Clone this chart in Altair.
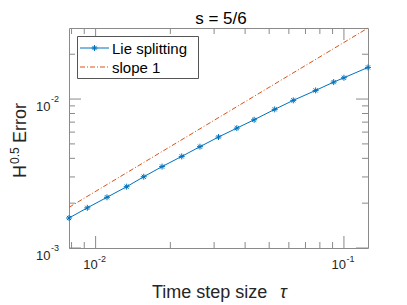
import altair as alt
import pandas as pd

# ---- data ----
tau = [0.0078125, 0.009259, 0.011111, 0.013333, 0.015625, 0.018519, 0.022222,
       0.026316, 0.03125, 0.037037, 0.043478, 0.052632, 0.0625, 0.076923,
       0.090909, 0.1, 0.125]
err = [0.00159, 0.00186, 0.00219, 0.00258, 0.00301, 0.00352, 0.00412,
       0.00479, 0.00556, 0.00638, 0.00726, 0.00853, 0.0098, 0.01143,
       0.0130, 0.0139, 0.01631]
slope_tau = [0.0078125, 0.125]
slope_err = [0.001875, 0.030]

x_major = [0.01, 0.1]
x_major_exp = ["-2", "-1"]
x_minor = [0.008, 0.009, 0.02, 0.03, 0.04, 0.05, 0.06, 0.07, 0.08, 0.09]
y_major = [0.001, 0.01]
y_major_exp = ["-3", "-2"]
y_minor = [0.002, 0.003, 0.004, 0.005, 0.006, 0.007, 0.008, 0.009, 0.02]
x_domain = [0.0078125, 0.125]
y_domain = [0.001, 0.03]

legend_labels = ["Lie splitting", "slope 1"]
title_text = "s = 5/6"
xlabel_text = "Time step size"
xlabel_sym = "τ"
ylabel_parts = ["H", "0.5", "Error"]

# ---- styling ----
W, H = 299, 220
FONT = "Liberation Sans"
TXT = "#262626"
AX = "#8a8a8a"
BLUE = "#0072BD"
ORANGE = "#D95319"
DASH = [5, 2, 1, 2]
ASTER = "M-1,0L1,0M0,-1L0,1M-0.7,-0.7L0.7,0.7M-0.7,0.7L0.7,-0.7"
MAJ, MIN = 12, 6

xs = alt.Scale(type="log", domain=x_domain, nice=False)
ys = alt.Scale(type="log", domain=y_domain, nice=False)


def X(f):
    return alt.X(f, type="quantitative", scale=xs, axis=None)


def Y(f):
    return alt.Y(f, type="quantitative", scale=ys, axis=None)


lie = pd.DataFrame({"tau": tau, "err": err})
slope = pd.DataFrame({"tau": slope_tau, "err": slope_err})
xmaj = pd.DataFrame({"v": x_major, "e": x_major_exp, "b": ["10"] * len(x_major)})
xmin = pd.DataFrame({"v": x_minor})
ymaj = pd.DataFrame({"v": y_major, "e": y_major_exp, "b": ["10"] * len(y_major)})
ymin = pd.DataFrame({"v": y_minor})

slope_line = alt.Chart(slope).mark_line(color=ORANGE, strokeWidth=1, strokeDash=DASH).encode(
    x=X("tau"), y=Y("err"))
lie_line = alt.Chart(lie).mark_line(color=BLUE, strokeWidth=1).encode(x=X("tau"), y=Y("err"))
lie_pts = alt.Chart(lie).mark_point(shape=ASTER, filled=False, color=BLUE, size=36,
                                    strokeWidth=1, opacity=1).encode(x=X("tau"), y=Y("err"))

# ticks (inward, on all four sides)
ticks = []
for df, ln in ((xmaj, MAJ), (xmin, MIN)):
    ticks.append(alt.Chart(df).mark_rule(color=AX, strokeWidth=1).encode(
        x=X("v"), y=alt.value(H), y2=alt.value(H - ln)))
    ticks.append(alt.Chart(df).mark_rule(color=AX, strokeWidth=1).encode(
        x=X("v"), y=alt.value(0), y2=alt.value(ln)))
for df, ln in ((ymaj, MAJ), (ymin, MIN)):
    ticks.append(alt.Chart(df).mark_rule(color=AX, strokeWidth=1).encode(
        y=Y("v"), x=alt.value(0), x2=alt.value(ln)))
    ticks.append(alt.Chart(df).mark_rule(color=AX, strokeWidth=1).encode(
        y=Y("v"), x=alt.value(W), x2=alt.value(W - ln)))

# tick labels with superscripts
xl_base = alt.Chart(xmaj).mark_text(align="right", baseline="alphabetic", font=FONT,
                                    fontSize=13, color=TXT, dx=2).encode(
    x=X("v"), y=alt.value(H + 21), text="b:N")
xl_exp = alt.Chart(xmaj).mark_text(align="left", baseline="alphabetic", font=FONT,
                                   fontSize=9, color=TXT, dx=2.5).encode(
    x=X("v"), y=alt.value(H + 14), text="e:N")
yl_base = alt.Chart(ymaj).mark_text(align="right", baseline="alphabetic", font=FONT,
                                    fontSize=13, color=TXT, dy=12).encode(
    x=alt.value(-18.5), y=Y("v"), text="b:N")
yl_exp = alt.Chart(ymaj).mark_text(align="left", baseline="alphabetic", font=FONT,
                                   fontSize=9, color=TXT, dy=3).encode(
    x=alt.value(-18), y=Y("v"), text="e:N")

# titles
title = alt.Chart(pd.DataFrame({"t": [title_text]})).mark_text(
    align="center", baseline="alphabetic", font=FONT, fontSize=17, color="#000").encode(
    x=alt.value(152), y=alt.value(-4.5), text="t:N")
xlab = alt.Chart(pd.DataFrame({"t": [xlabel_text]})).mark_text(
    align="left", baseline="alphabetic", font=FONT, fontSize=18, color=TXT).encode(
    x=alt.value(83), y=alt.value(270), text="t:N")
xsym = alt.Chart(pd.DataFrame({"t": [xlabel_sym]})).mark_text(
    align="left", baseline="alphabetic", font=FONT, fontSize=18, fontStyle="italic",
    color=TXT).encode(x=alt.value(211), y=alt.value(270), text="t:N")
yl_h = alt.Chart(pd.DataFrame({"t": [ylabel_parts[0]]})).mark_text(
    align="left", baseline="alphabetic", font=FONT, fontSize=18, angle=270, color=TXT).encode(
    x=alt.value(-43), y=alt.value(150), text="t:N")
yl_sup = alt.Chart(pd.DataFrame({"t": [ylabel_parts[1]]})).mark_text(
    align="left", baseline="alphabetic", font=FONT, fontSize=12, angle=270, color=TXT).encode(
    x=alt.value(-50.5), y=alt.value(136), text="t:N")
yl_err = alt.Chart(pd.DataFrame({"t": [ylabel_parts[2]]})).mark_text(
    align="left", baseline="alphabetic", font=FONT, fontSize=18, angle=270, color=TXT).encode(
    x=alt.value(-43), y=alt.value(115), text="t:N")

# legend
leg_box = alt.Chart(pd.DataFrame({"a": [0]})).mark_rect(
    fill="white", stroke="#555", strokeWidth=1).encode(
    x=alt.value(8.5), x2=alt.value(129.5), y=alt.value(8.5), y2=alt.value(50.5))
leg_l1 = alt.Chart(pd.DataFrame({"a": [0]})).mark_rule(color=BLUE, strokeWidth=1).encode(
    x=alt.value(11), x2=alt.value(40), y=alt.value(20))
leg_p1 = alt.Chart(pd.DataFrame({"a": [0]})).mark_point(
    shape=ASTER, filled=False, color=BLUE, size=36, strokeWidth=1, opacity=1).encode(
    x=alt.value(25.5), y=alt.value(20))
leg_l2 = alt.Chart(pd.DataFrame({"a": [0]})).mark_rule(
    color=ORANGE, strokeWidth=1, strokeDash=DASH).encode(
    x=alt.value(11), x2=alt.value(40), y=alt.value(39))
leg_t1 = alt.Chart(pd.DataFrame({"t": [legend_labels[0]]})).mark_text(
    align="left", baseline="alphabetic", font=FONT, fontSize=15, color="#000").encode(
    x=alt.value(43), y=alt.value(25.5), text="t:N")
leg_t2 = alt.Chart(pd.DataFrame({"t": [legend_labels[1]]})).mark_text(
    align="left", baseline="alphabetic", font=FONT, fontSize=15, color="#000").encode(
    x=alt.value(43), y=alt.value(44.5), text="t:N")

chart = alt.layer(
    slope_line, lie_line, lie_pts, *ticks,
    xl_base, xl_exp, yl_base, yl_exp,
    title, xlab, xsym, yl_h, yl_sup, yl_err,
    leg_box, leg_l1, leg_p1, leg_l2, leg_t1, leg_t2,
).properties(
    width=W, height=H,
    autosize=alt.AutoSizeParams(type="none"),
    padding={"left": 61, "top": 20, "right": 22, "bottom": 56},
    background="white",
).configure_view(stroke=AX, strokeWidth=1)

chart.save("out.html", embed_options={"renderer": "svg", "actions": False})
